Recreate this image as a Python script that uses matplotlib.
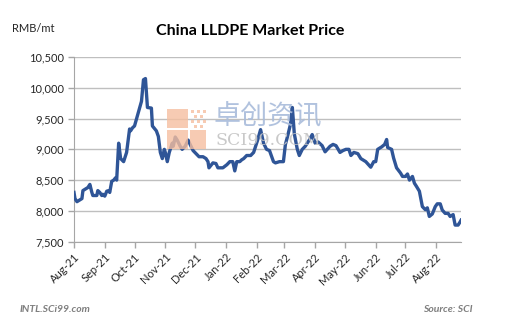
import matplotlib
matplotlib.use('Agg')
import matplotlib.pyplot as plt
import matplotlib.dates as mdates
import matplotlib.patches as patches
import pandas as pd

# price readings, RMB/mt
dates = [
    '2021-08-01', '2021-08-02', '2021-08-04', '2021-08-07', '2021-08-09', '2021-08-10',
    '2021-08-15', '2021-08-17', '2021-08-19', '2021-08-20', '2021-08-24', '2021-08-25',
    '2021-08-27', '2021-08-29', '2021-08-30', '2021-09-01', '2021-09-03', '2021-09-05',
    '2021-09-06', '2021-09-08', '2021-09-10', '2021-09-12', '2021-09-13', '2021-09-15',
    '2021-09-17', '2021-09-20', '2021-09-23', '2021-09-25', '2021-09-26', '2021-09-27',
    '2021-09-29', '2021-10-01', '2021-10-08', '2021-10-10', '2021-10-12', '2021-10-13',
    '2021-10-14', '2021-10-18', '2021-10-19', '2021-10-23', '2021-10-25', '2021-10-27',
    '2021-10-29', '2021-10-31', '2021-11-01', '2021-11-03', '2021-11-05', '2021-11-08',
    '2021-11-09', '2021-11-11', '2021-11-13', '2021-11-16', '2021-11-18', '2021-11-21',
    '2021-11-24', '2021-11-26', '2021-11-29', '2021-12-02', '2021-12-05', '2021-12-09',
    '2021-12-12', '2021-12-14', '2021-12-15', '2021-12-19', '2021-12-22', '2021-12-24',
    '2021-12-29', '2022-01-02', '2022-01-05', '2022-01-08', '2022-01-10', '2022-01-12',
    '2022-01-15', '2022-01-17', '2022-01-19', '2022-01-22', '2022-01-26', '2022-01-29',
    '2022-02-02', '2022-02-05', '2022-02-08', '2022-02-11', '2022-02-14', '2022-02-18',
    '2022-02-20', '2022-02-24', '2022-02-28', '2022-03-02', '2022-03-04', '2022-03-07',
    '2022-03-09', '2022-03-11', '2022-03-14', '2022-03-16', '2022-03-19', '2022-03-22',
    '2022-03-26', '2022-03-29', '2022-04-01', '2022-04-04', '2022-04-08', '2022-04-11',
    '2022-04-16', '2022-04-19', '2022-04-22', '2022-04-26', '2022-04-29', '2022-05-02',
    '2022-05-05', '2022-05-07', '2022-05-10', '2022-05-14', '2022-05-17', '2022-05-20',
    '2022-05-22', '2022-05-27', '2022-05-30', '2022-06-01', '2022-06-03', '2022-06-07',
    '2022-06-10', '2022-06-12', '2022-06-13', '2022-06-17', '2022-06-19', '2022-06-22',
    '2022-06-26', '2022-06-28', '2022-07-01', '2022-07-03', '2022-07-05', '2022-07-08',
    '2022-07-10', '2022-07-12', '2022-07-15', '2022-07-18', '2022-07-21', '2022-07-23',
    '2022-07-25', '2022-07-28', '2022-07-31', '2022-08-02', '2022-08-05', '2022-08-07',
    '2022-08-10', '2022-08-13', '2022-08-15', '2022-08-18', '2022-08-20', '2022-08-23',
    '2022-08-25', '2022-08-26',
]
prices = [
    8300, 8200, 8150, 8180, 8200, 8330,
    8380, 8430, 8300, 8250, 8250, 8330,
    8300, 8250, 8270, 8240, 8320, 8330,
    8300, 8480, 8500, 8540, 8500, 9100,
    8850, 8800, 8950, 9200, 9330, 9300,
    9350, 9380, 9780, 10130, 10150, 9920,
    9680, 9670, 9380, 9300, 9210, 8950,
    8850, 9000, 8950, 8800, 8950, 9100,
    9050, 9200, 9150, 9050, 9000, 9050,
    9150, 9080, 8980, 8930, 8880, 8880,
    8850, 8800, 8700, 8780, 8770, 8700,
    8700, 8750, 8800, 8800, 8650, 8800,
    8800, 8830, 8850, 8900, 8900, 8950,
    9150, 9320, 9100, 9000, 8980, 8800,
    8780, 8800, 8800, 9080, 9200, 9400,
    9680, 9250, 9000, 8900, 9000, 9050,
    9150, 9240, 9100, 9120, 9060, 8960,
    9050, 9080, 9060, 8950, 8980, 9000,
    9000, 8900, 8950, 8930, 8850, 8820,
    8800, 8710, 8800, 8800, 9000, 9040,
    9080, 9160, 9030, 9000, 8860, 8700,
    8615, 8560, 8560, 8600, 8500, 8560,
    8450, 8400, 8320, 8070, 8020, 8050,
    7910, 7950, 8070, 8115, 8115, 8015,
    7960, 7960, 7910, 7940, 7770, 7770,
    7820, 7850,
]
yticks = [7500, 8000, 8500, 9000, 9500, 10000, 10500]

plt.rcParams['font.family'] = ['Lato', 'DejaVu Sans']

fig = plt.figure(figsize=(5.27, 3.30), dpi=100)
ax = fig.add_axes([0.1404, 0.2676, 0.7345, 0.5597])

x = pd.to_datetime(dates)
ax.plot(x, prices, color='#2F5597', lw=2.4, solid_joinstyle='round', zorder=3)

ax.set_xlim(pd.Timestamp('2021-08-01'), pd.Timestamp('2022-08-26'))
ax.set_ylim(7500, 10500)
ax.set_yticks(yticks)
ax.set_yticklabels([f'{v:,}' for v in yticks])
ax.yaxis.grid(True, color='#BFBFBF', lw=1)
ax.set_axisbelow(True)

ax.xaxis.set_major_locator(mdates.MonthLocator())
ax.xaxis.set_major_formatter(mdates.DateFormatter('%b-%y'))
plt.setp(ax.get_xticklabels(), rotation=45, ha='right', rotation_mode='anchor')

ax.tick_params(axis='both', labelsize=8, color='#A6A6A6', length=4, width=1, pad=3,
               labelcolor='#262626')
for side in ['top', 'right']:
    ax.spines[side].set_visible(False)
for side in ['left', 'bottom']:
    ax.spines[side].set_color('#A6A6A6')

# watermark logo
logo = [(167, 109, 21, 19), (167, 130, 21, 19), (190, 130, 16, 19)]
for lx, ly, w, h in logo:
    fig.patches.append(patches.Rectangle((lx / 527, 1 - (ly + h) / 330), w / 527, h / 330,
                                         transform=fig.transFigure, color='#F6BFA0',
                                         alpha=0.8, lw=0, zorder=0))
for dx, dy in [(191, 110), (197, 110), (203, 110), (194, 115), (200, 115),
               (191, 120), (197, 120), (203, 120), (194, 125), (200, 125)]:
    fig.patches.append(patches.Rectangle((dx / 527, 1 - (dy + 3) / 330), 3 / 527, 3 / 330,
                                         transform=fig.transFigure, color='#F6BFA0',
                                         alpha=0.8, lw=0, zorder=0))
fig.text(268 / 527, 1 - 117 / 330, '卓创资讯', family=['Noto Sans CJK SC'], fontsize=19.5,
         color='#A9BCDB', alpha=0.9, ha='center', va='center', zorder=1)
fig.text(268 / 527, 1 - 140 / 330, 'SCI99.COM', family=['DejaVu Serif'], fontsize=12.5,
         color='#C4C4C4', alpha=0.9, ha='center', va='center', zorder=1)

fig.text(250 / 527, 1 - 31 / 330, 'China LLDPE Market Price', fontsize=11.5,
         fontweight='bold', ha='center', va='center', color='black')
fig.text(12 / 527, 1 - 28 / 330, 'RMB/mt', fontsize=8, ha='left', va='center',
         color='#262626')
fig.text(20 / 527, 1 - 309 / 330, 'INTL.SCi99.com', fontsize=7.5, fontweight='bold',
         style='italic', color='#7F7F7F', ha='left', va='center')
fig.text(473 / 527, 1 - 309 / 330, 'Source: SCI', fontsize=7.5, fontweight='bold',
         style='italic', color='#7F7F7F', ha='right', va='center')

fig.savefig('out.png', dpi=100)
